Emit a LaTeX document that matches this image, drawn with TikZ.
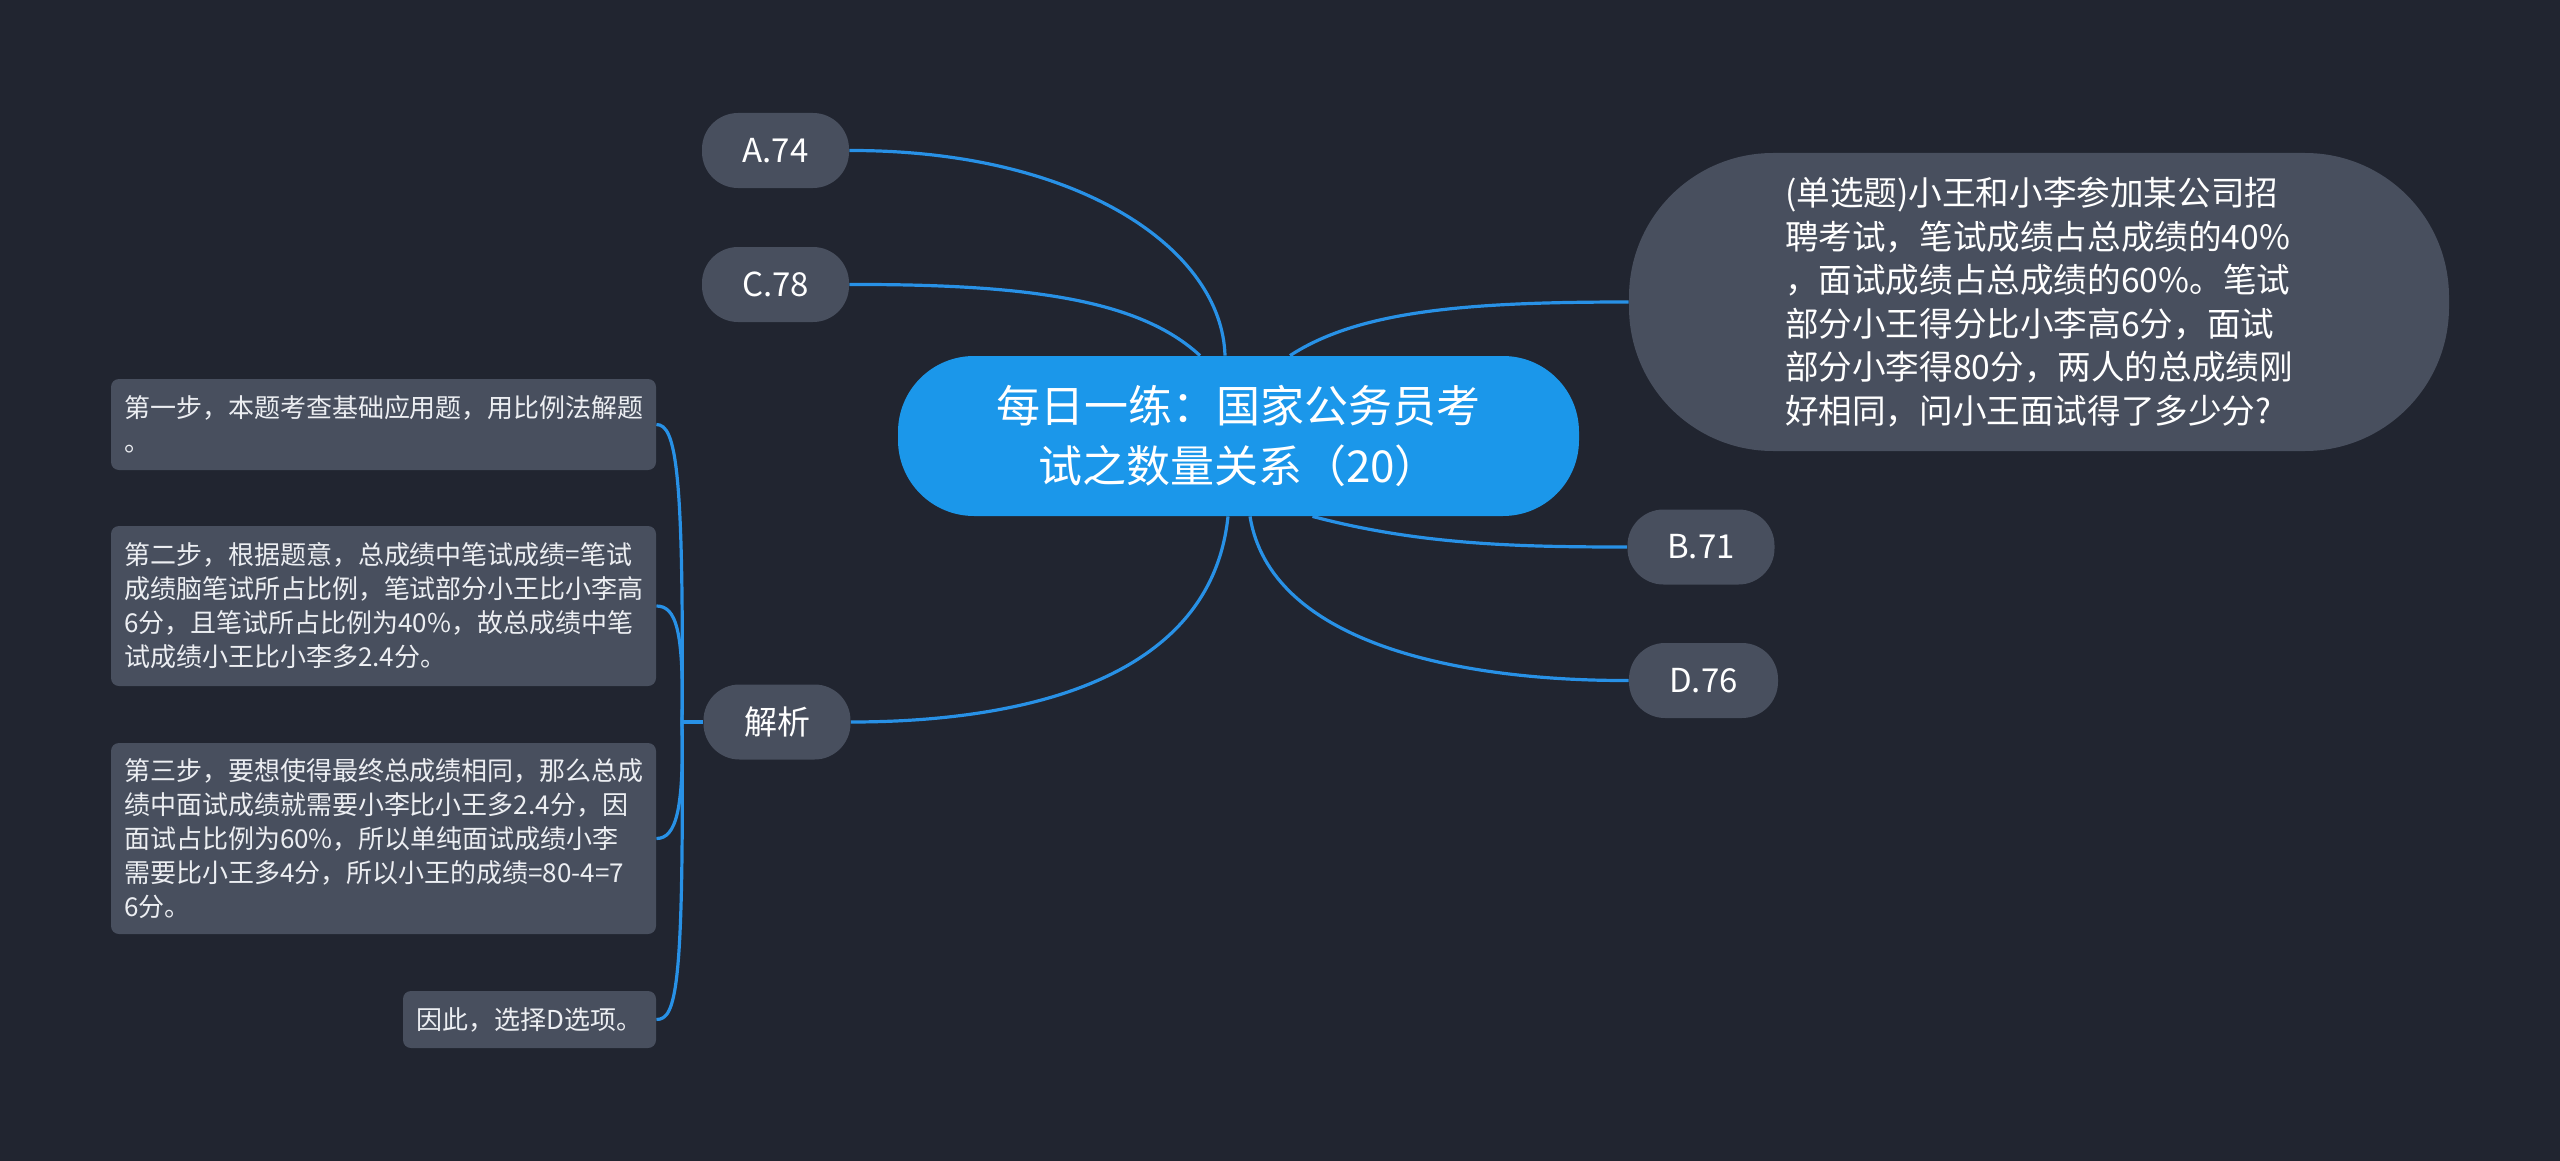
\documentclass[tikz,border=0pt]{standalone}
\usepackage{fontspec}
\setmainfont{Noto Sans CJK SC}
\usetikzlibrary{backgrounds}
\definecolor{bgc}{RGB}{33,37,48}
\definecolor{nodegray}{RGB}{72,79,94}
\definecolor{mainblue}{RGB}{27,151,234}
\definecolor{linkblue}{RGB}{40,145,230}
\definecolor{softwhite}{RGB}{236,238,242}
\begin{document}
\begin{tikzpicture}[x=0.5pt,y=-0.5pt,
  leaf/.style={fill=nodegray, text=white, rounded corners=18pt, minimum width=73.5pt, minimum height=37.5pt, inner sep=0pt, font=\fontsize{16.5}{20}\selectfont},
  centerbox/.style={fill=mainblue, text=white, rounded corners=38pt, minimum width=340.5pt, minimum height=80pt, inner sep=0pt, align=center, font=\fontsize{22}{30}\selectfont},
  qbox/.style={fill=nodegray, text=white, rounded corners=72pt, minimum width=410pt, minimum height=149pt, inner sep=0pt, align=left, font=\fontsize{16.8}{21.75}\selectfont},
  stepbox/.style={fill=nodegray, text=softwhite, rounded corners=4pt, text width=259.5pt, inner xsep=6.5pt, inner ysep=0pt, align=left, font=\fontsize{13}{17}\selectfont},
  finalbox/.style={fill=nodegray, text=softwhite, rounded corners=4pt, minimum width=126.5pt, minimum height=28.5pt, inner sep=0pt, font=\fontsize{13}{17}\selectfont},
  link/.style={draw=linkblue, line width=1.6pt}
]
\useasboundingbox (0,0) rectangle (2560,1161);

\node[centerbox] (c) at (1238.5,436) {每日一练：国家公务员考\\试之数量关系（20）};
\node[qbox] (q) at (2039,302) {(单选题)小王和小李参加某公司招\\聘考试，笔试成绩占总成绩的40\%\\，面试成绩占总成绩的60\%。笔试\\部分小王得分比小李高6分，面试\\部分小李得80分，两人的总成绩刚\\好相同，问小王面试得了多少分?};
\node[leaf] (a) at (775.5,150.5) {A.74};
\node[leaf] (cc) at (775.5,284.5) {C.78};
\node[leaf] (b) at (1701,547) {B.71};
\node[leaf, minimum width=74.5pt] (d) at (1703.5,680.5) {D.76};
\node[leaf] (j) at (777,722) {解析};

\node[stepbox, minimum height=45.5pt] (s1) at (383.5,424.5) {第一步，本题考查基础应用题，用比例法解题\\。};
\node[stepbox, minimum height=80pt] (s2) at (383.5,606) {第二步，根据题意，总成绩中笔试成绩=笔试\\成绩脑笔试所占比例，笔试部分小王比小李高\\6分，且笔试所占比例为40\%，故总成绩中笔\\试成绩小王比小李多2.4分。};
\node[stepbox, minimum height=95.5pt] (s3) at (383.5,838.5) {第三步，要想使得最终总成绩相同，那么总成\\绩中面试成绩就需要小李比小王多2.4分，因\\面试占比例为60\%，所以单纯面试成绩小李\\需要比小王多4分，所以小王的成绩=80-4=7\\6分。};
\node[finalbox] (f) at (529.5,1019.5) {因此，选择D选项。};

\coordinate (stem) at (682,722);

\begin{pgfonlayer}{background}
\fill[bgc] (0,0) rectangle (2560,1161);
\draw[link] ([xshift=-6.75pt]c.north) .. controls (1222,250) and (1080,150) .. (a.east);
\draw[link] ([xshift=-19.25pt]c.north) .. controls (1140,300) and (1030,284) .. (cc.east);
\draw[link] ([xshift=25.75pt]c.north) .. controls (1360,310) and (1470,302) .. (q.west);
\draw[link] ([xshift=37pt]c.south) .. controls (1420,545) and (1520,547) .. (b.west);
\draw[link] ([xshift=5.75pt]c.south) .. controls (1270,640) and (1450,681) .. (d.west);
\draw[link] ([xshift=-5.25pt]c.south) .. controls (1210,690) and (1000,722) .. (j.east);
\draw[link] (j.west) -- (stem);
\draw[link] (stem) .. controls (684,470) and (676,424.5) .. (s1.east);
\draw[link] (stem) .. controls (684,630) and (676,606) .. (s2.east);
\draw[link] (stem) .. controls (684,810) and (676,838.5) .. (s3.east);
\draw[link] (stem) .. controls (684,990) and (676,1019.5) .. (f.east);
\end{pgfonlayer}
\end{tikzpicture}
\end{document}
